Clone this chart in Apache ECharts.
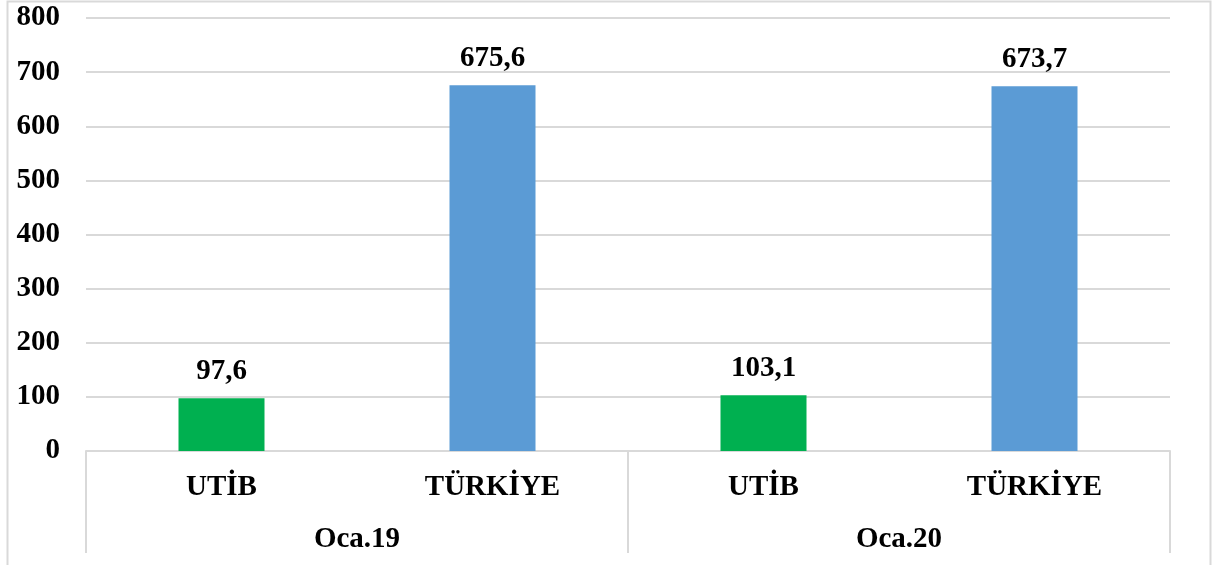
<!DOCTYPE html>
<html>
<head>
<meta charset="utf-8">
<script src="https://cdn.jsdelivr.net/npm/echarts@6/dist/echarts.min.js"></script>
<style>
    html, body { margin: 0; padding: 0; background: #fff; }
    #chart { width: 1217px; height: 565px; }
</style>
</head>
<body>
<div id="chart"></div>
<script>
// 数据
var categories = ['UTİB', 'TÜRKİYE', 'UTİB', 'TÜRKİYE'];
var groups = ['Oca.19', 'Oca.20'];
var values = [97.6, 675.6, 103.1, 673.7];
var barColors = { 'UTİB': '#00b050', 'TÜRKİYE': '#5b9bd5' };

var font = 'Liberation Serif, Times New Roman, serif';
var grey = '#d9d9d9';

var chart = echarts.init(document.getElementById('chart'));
var option = {
    animation: false,
    backgroundColor: '#fff',
    grid: { left: 86, right: 47, top: 18, bottom: 114 },
    // 外框
    graphic: [{
        type: 'rect',
        shape: { x: 7.5, y: 1.5, width: 1203, height: 600 },
        style: { fill: 'none', stroke: grey, lineWidth: 2 },
        silent: true
    }],
    xAxis: [{
        type: 'category',
        data: categories,
        axisLine: { lineStyle: { color: grey, width: 2 } },
        axisTick: { show: false },
        axisLabel: {
            margin: 22,
            color: '#000',
            fontFamily: font,
            fontWeight: 'bold',
            fontSize: 29
        }
    }, {
        type: 'category',
        data: groups,
        position: 'bottom',
        axisLine: { show: false },
        axisTick: { show: true, length: 102, lineStyle: { color: grey, width: 2 } },
        axisLabel: {
            margin: 74,
            color: '#000',
            fontFamily: font,
            fontWeight: 'bold',
            fontSize: 29
        }
    }],
    yAxis: {
        type: 'value',
        min: 0,
        max: 800,
        interval: 100,
        axisLine: { show: false },
        axisTick: { show: false },
        splitLine: { lineStyle: { color: grey, width: 2 } },
        axisLabel: {
            margin: 26,
            color: '#000',
            fontFamily: font,
            fontWeight: 'bold',
            fontSize: 29
        }
    },
    series: [{
        type: 'bar',
        xAxisIndex: 0,
        data: values,
        barWidth: 86,
        itemStyle: {
            color: function (p) { return barColors[categories[p.dataIndex]]; }
        },
        label: {
            show: true,
            position: 'top',
            distance: 12,
            color: '#000',
            fontFamily: font,
            fontWeight: 'bold',
            fontSize: 29,
            formatter: function (p) { return p.value.toFixed(1).replace('.', ','); }
        }
    }]
};
chart.setOption(option);
</script>
</body>
</html>
